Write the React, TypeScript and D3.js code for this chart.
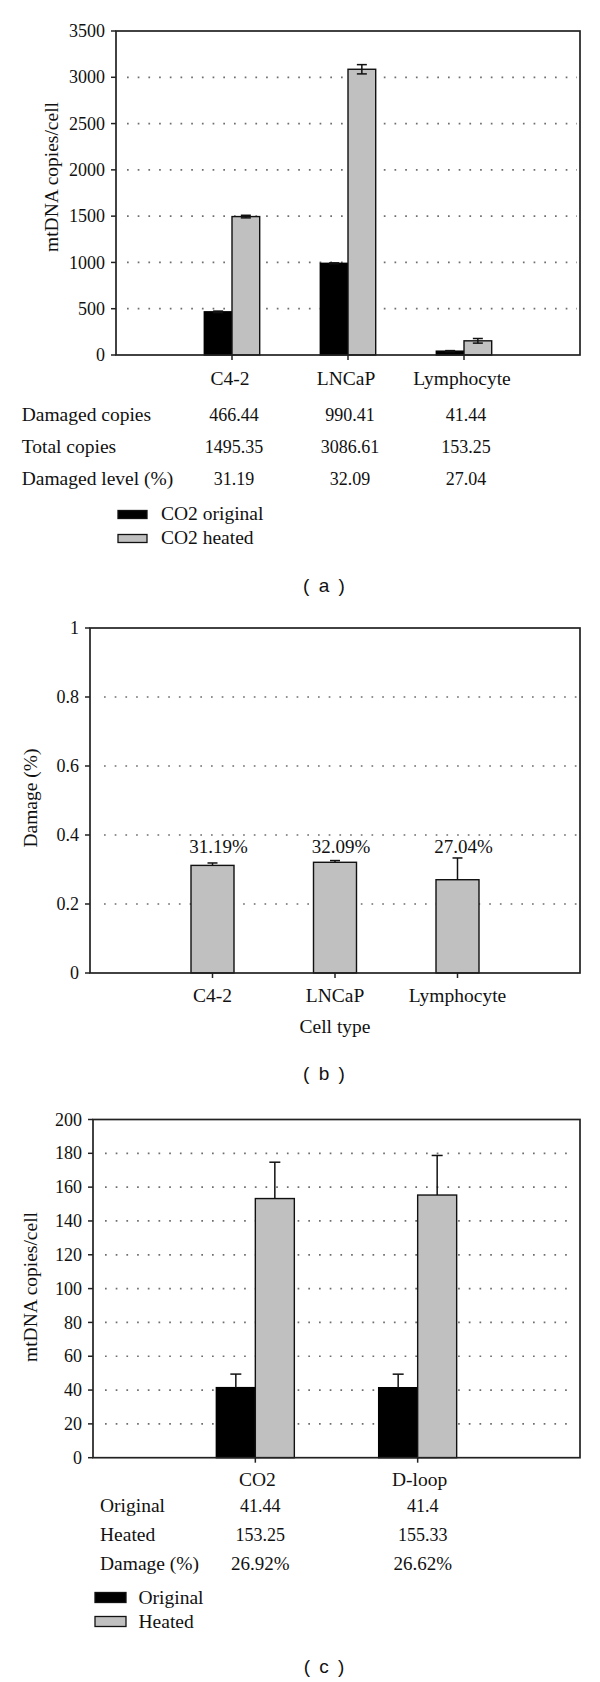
import React from "react";
import * as d3 from "d3";

// ---------- Panel (a) data ----------
const cellTypes = ["C4-2", "LNCaP", "Lymphocyte"];
const co2Original = [466.44, 990.41, 41.44];
const co2OriginalErr = [8, 5, 6];
const co2Heated = [1495.35, 3086.61, 153.25];
const co2HeatedErr = [14, 50, 25];
const damagedLevelPct = [31.19, 32.09, 27.04];
const ticksA = [0, 500, 1000, 1500, 2000, 2500, 3000, 3500];
const legendA = ["CO2 original", "CO2 heated"];
const tableRowsA = ["Damaged copies", "Total copies", "Damaged level (%)"];

// ---------- Panel (b) data ----------
const damageFraction = [0.3119, 0.3209, 0.2704];
const damageErr = [0.007, 0.005, 0.063];
const damageLabels = ["31.19%", "32.09%", "27.04%"];
const ticksB = [0, 0.2, 0.4, 0.6, 0.8, 1];

// ---------- Panel (c) data ----------
const genes = ["CO2", "D-loop"];
const originalC = [41.44, 41.4];
const originalCErr = [8, 8];
const heatedC = [153.25, 155.33];
const heatedCErr = [21.5, 23.4];
const damagePctC = ["26.92%", "26.62%"];
const ticksC = [0, 20, 40, 60, 80, 100, 120, 140, 160, 180, 200];
const legendC = ["Original", "Heated"];
const tableRowsC = ["Original", "Heated", "Damage (%)"];

const SERIF = "'Liberation Serif', 'Times New Roman', serif";
const SANS = "'Liberation Sans', Arial, sans-serif";
const FS = 18; // numbers
const FW = 19.5; // words
const FP = 19; // percent labels
const GRAY = "#c0c0c0";
const FRAME = "#222";

type Frame = { left: number; right: number; top: number; bottom: number };

function Axes({
  f,
  y,
  ticks,
  fmt,
  gridFrom,
  gridTo,
  catX,
}: {
  f: Frame;
  y: d3.ScaleLinear<number, number>;
  ticks: number[];
  fmt: (v: number) => string;
  gridFrom: number;
  gridTo: number;
  catX: number[];
}) {
  const maxT = ticks[ticks.length - 1];
  return (
    <g>
      {ticks
        .filter((t) => t !== 0 && t !== maxT)
        .map((t) => (
          <line
            key={"g" + t}
            x1={gridFrom}
            x2={gridTo}
            y1={y(t)}
            y2={y(t)}
            stroke="#6e6e6e"
            strokeWidth={1.7}
            strokeDasharray="1.7 9"
          />
        ))}
      {ticks.map((t) => (
        <g key={"t" + t}>
          <line x1={f.left - 5} x2={f.left} y1={y(t)} y2={y(t)} stroke={FRAME} strokeWidth={1.5} />
          <text
            x={f.left - 11}
            y={y(t)}
            dy="0.34em"
            textAnchor="end"
            fontFamily={SERIF}
            fontSize={FS}
            fill="#111"
          >
            {fmt(t)}
          </text>
        </g>
      ))}
      {catX.map((cx, i) => (
        <line key={"c" + i} x1={cx} x2={cx} y1={f.bottom} y2={f.bottom + 5} stroke={FRAME} strokeWidth={1.5} />
      ))}
    </g>
  );
}

function FrameRect({ f }: { f: Frame }) {
  return (
    <rect
      x={f.left}
      y={f.top}
      width={f.right - f.left}
      height={f.bottom - f.top}
      fill="none"
      stroke={FRAME}
      strokeWidth={1.7}
    />
  );
}

function ErrorBar({ x, y0, y1, cap, both, yLow }: { x: number; y0: number; y1: number; cap: number; both?: boolean; yLow?: number }) {
  return (
    <g stroke="#111" strokeWidth={1.5}>
      <line x1={x} x2={x} y1={both && yLow !== undefined ? yLow : y0} y2={y1} />
      <line x1={x - cap / 2} x2={x + cap / 2} y1={y1} y2={y1} />
      {both && yLow !== undefined && <line x1={x - cap / 2} x2={x + cap / 2} y1={yLow} y2={yLow} />}
    </g>
  );
}

export default function App() {
  // ---------- Panel (a) ----------
  const fA: Frame = { left: 116, right: 580, top: 31, bottom: 355 };
  const xA = d3.scaleLinear().domain([0, 4]).range([fA.left, fA.right]);
  const yA = d3.scaleLinear().domain([0, 3500]).range([fA.bottom, fA.top]);
  const bwA = 27.7;
  const catXA = cellTypes.map((_, i) => xA(i + 1));

  // ---------- Panel (b) ----------
  const fB: Frame = { left: 90, right: 580, top: 628, bottom: 973 };
  const xB = d3.scaleLinear().domain([0, 4]).range([fB.left, fB.right]);
  const yB = d3.scaleLinear().domain([0, 1]).range([fB.bottom, fB.top]);
  const bwB = 43;
  const catXB = cellTypes.map((_, i) => xB(i + 1));

  // ---------- Panel (c) ----------
  const fC: Frame = { left: 93, right: 580, top: 1119.5, bottom: 1457.7 };
  const xC = d3.scaleLinear().domain([0, 3]).range([fC.left, fC.right]);
  const yC = d3.scaleLinear().domain([0, 200]).range([fC.bottom, fC.top]);
  const bwC = 39;
  const catXC = genes.map((_, i) => xC(i + 1));

  const tableValsA = [
    co2Original.map((v) => v.toFixed(2)),
    co2Heated.map((v) => v.toFixed(2)),
    damagedLevelPct.map((v) => v.toFixed(2)),
  ];
  const tableValsC = [
    originalC.map((v) => String(v)),
    heatedC.map((v) => v.toFixed(2)),
    damagePctC,
  ];
  const rowYA = [420.7, 452.7, 485];
  const rowYC = [1511.7, 1540.7, 1570];

  return (
    <svg
      width={600}
      height={1682}
      style={{ position: "absolute", left: 0, top: 0, background: "#fff" }}
      fontFamily={SERIF}
    >
      <rect x={0} y={0} width={600} height={1682} fill="#fff" />

      {/* ================= Panel (a) ================= */}
      <Axes
        f={fA}
        y={yA}
        ticks={ticksA}
        fmt={(v) => String(v)}
        gridFrom={fA.left + 11}
        gridTo={fA.right - 3}
        catX={catXA}
      />
      {cellTypes.map((c, i) => {
        const cx = xA(i + 1);
        return (
          <g key={"a" + c}>
            <rect x={cx - bwA} y={yA(co2Original[i])} width={bwA} height={yA(0) - yA(co2Original[i])} fill="#000" stroke="#000" strokeWidth={1.4} />
            <rect x={cx} y={yA(co2Heated[i])} width={bwA} height={yA(0) - yA(co2Heated[i])} fill={GRAY} stroke="#111" strokeWidth={1.4} />
            <ErrorBar x={cx - bwA / 2} y0={yA(co2Original[i])} y1={yA(co2Original[i] + co2OriginalErr[i])} yLow={yA(co2Original[i] - co2OriginalErr[i])} both cap={10} />
            <ErrorBar x={cx + bwA / 2} y0={yA(co2Heated[i])} y1={yA(co2Heated[i] + co2HeatedErr[i])} yLow={yA(co2Heated[i] - co2HeatedErr[i])} both cap={10} />
            <text x={cx - 2} y={385} textAnchor="middle" fontSize={FW} fill="#111">
              {c}
            </text>
          </g>
        );
      })}
      <FrameRect f={fA} />
      <text transform={`translate(58,177) rotate(-90)`} textAnchor="middle" fontSize={FW} fill="#111">
        mtDNA copies/cell
      </text>
      {tableRowsA.map((r, ri) => (
        <g key={"ra" + ri}>
          <text x={21.7} y={rowYA[ri]} fontSize={FW} fill="#111">
            {r}
          </text>
          {tableValsA[ri].map((v, ci) => (
            <text key={ci} x={catXA[ci] + 2} y={rowYA[ri]} textAnchor="middle" fontSize={FS} fill="#111">
              {v}
            </text>
          ))}
        </g>
      ))}
      {legendA.map((l, i) => (
        <g key={"la" + i}>
          <rect x={118} y={510.5 + i * 24} width={29} height={8} fill={i === 0 ? "#000" : GRAY} stroke="#111" strokeWidth={1.3} />
          <text x={161} y={519.5 + i * 24} fontSize={FW} fill="#111">
            {l}
          </text>
        </g>
      ))}
      <text x={325} y={592} textAnchor="middle" fontFamily={SANS} fontSize={19} letterSpacing={2} fill="#111">
        ( a )
      </text>

      {/* ================= Panel (b) ================= */}
      <Axes
        f={fB}
        y={yB}
        ticks={ticksB}
        fmt={(v) => String(v)}
        gridFrom={fB.left + 14}
        gridTo={fB.right - 2}
        catX={catXB}
      />
      {cellTypes.map((c, i) => {
        const cx = xB(i + 1);
        return (
          <g key={"b" + c}>
            <rect x={cx - bwB / 2} y={yB(damageFraction[i])} width={bwB} height={yB(0) - yB(damageFraction[i])} fill={GRAY} stroke="#111" strokeWidth={1.4} />
            <ErrorBar x={cx} y0={yB(damageFraction[i])} y1={yB(damageFraction[i] + damageErr[i])} cap={10} />
            <text x={cx + 6} y={853} textAnchor="middle" fontSize={FP} fill="#111">
              {damageLabels[i]}
            </text>
            <text x={cx} y={1002} textAnchor="middle" fontSize={FW} fill="#111">
              {c}
            </text>
          </g>
        );
      })}
      <FrameRect f={fB} />
      <text transform={`translate(37,798) rotate(-90)`} textAnchor="middle" fontSize={FW} fill="#111">
        Damage (%)
      </text>
      <text x={(fB.left + fB.right) / 2} y={1033} textAnchor="middle" fontSize={FW} fill="#111">
        Cell type
      </text>
      <text x={325} y={1080} textAnchor="middle" fontFamily={SANS} fontSize={19} letterSpacing={2} fill="#111">
        ( b )
      </text>

      {/* ================= Panel (c) ================= */}
      <Axes
        f={fC}
        y={yC}
        ticks={ticksC}
        fmt={(v) => String(v)}
        gridFrom={fC.left + 12}
        gridTo={fC.right - 6}
        catX={catXC}
      />
      {genes.map((g, i) => {
        const cx = xC(i + 1);
        return (
          <g key={"c" + g}>
            <rect x={cx - bwC} y={yC(originalC[i])} width={bwC} height={yC(0) - yC(originalC[i])} fill="#000" stroke="#000" strokeWidth={1.4} />
            <rect x={cx} y={yC(heatedC[i])} width={bwC} height={yC(0) - yC(heatedC[i])} fill={GRAY} stroke="#111" strokeWidth={1.4} />
            <ErrorBar x={cx - bwC / 2} y0={yC(originalC[i])} y1={yC(originalC[i] + originalCErr[i])} cap={11} />
            <ErrorBar x={cx + bwC / 2} y0={yC(heatedC[i])} y1={yC(heatedC[i] + heatedCErr[i])} cap={11} />
            <text x={cx + 2} y={1486} textAnchor="middle" fontSize={FW} fill="#111">
              {g}
            </text>
          </g>
        );
      })}
      <FrameRect f={fC} />
      <text transform={`translate(37,1287) rotate(-90)`} textAnchor="middle" fontSize={FW} fill="#111">
        mtDNA copies/cell
      </text>
      {tableRowsC.map((r, ri) => (
        <g key={"rc" + ri}>
          <text x={100} y={rowYC[ri]} fontSize={FW} fill="#111">
            {r}
          </text>
          {tableValsC[ri].map((v, ci) => (
            <text key={ci} x={catXC[ci] + 5} y={rowYC[ri]} textAnchor="middle" fontSize={ri === 2 ? FP : FS} fill="#111">
              {v}
            </text>
          ))}
        </g>
      ))}
      {legendC.map((l, i) => (
        <g key={"lc" + i}>
          <rect x={95} y={1592.5 + i * 24} width={31} height={10} fill={i === 0 ? "#000" : GRAY} stroke="#111" strokeWidth={1.3} />
          <text x={138.5} y={1603.5 + i * 24} fontSize={FW} fill="#111">
            {l}
          </text>
        </g>
      ))}
      <text x={325} y={1673} textAnchor="middle" fontFamily={SANS} fontSize={19} letterSpacing={2} fill="#111">
        ( c )
      </text>
    </svg>
  );
}
